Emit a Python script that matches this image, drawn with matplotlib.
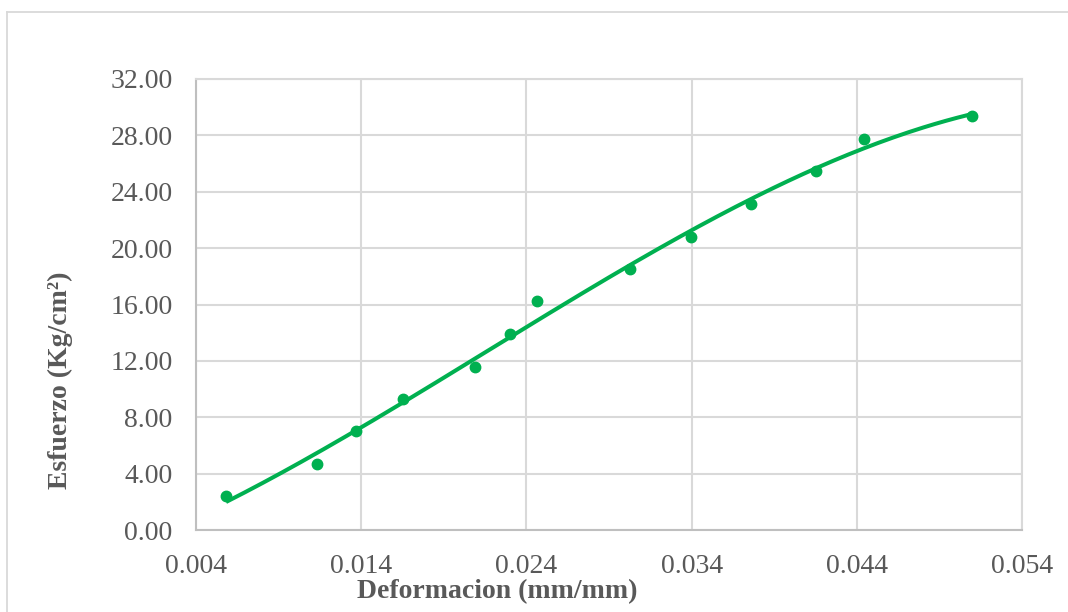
import numpy as np
import matplotlib
matplotlib.use("Agg")
import matplotlib.pyplot as plt
from matplotlib.lines import Line2D

# Strain (mm/mm) and stress (Kg/cm²) readings
deformacion = [0.00582, 0.01134, 0.01371, 0.01656, 0.02087, 0.02299, 0.02463,
               0.03027, 0.03398, 0.03762, 0.04150, 0.04441, 0.05097]
esfuerzo = [2.38, 4.68, 7.00, 9.27, 11.60, 13.90, 16.22,
            18.50, 20.82, 23.14, 25.44, 27.72, 29.40]

x_ticks = [0.004, 0.014, 0.024, 0.034, 0.044, 0.054]
y_ticks = [0, 4, 8, 12, 16, 20, 24, 28, 32]

GREEN = "#00B050"
TEXT = "#595959"
GRID = "#D9D9D9"

plt.rcParams["font.family"] = ["Liberation Serif", "DejaVu Serif"]

fig = plt.figure(figsize=(10.68, 6.12), dpi=100)
ax = fig.add_axes([196 / 1068, 1 - 530 / 612, (1022 - 196) / 1068, (530 - 79) / 612])

# Chart frame (top and left edges visible)
fig.add_artist(Line2D([7 / 1068, 1.0], [1 - 12 / 612] * 2, color=GRID, lw=1.3,
                      transform=fig.transFigure))
fig.add_artist(Line2D([7 / 1068] * 2, [0.0, 1 - 12 / 612], color=GRID, lw=1.3,
                      transform=fig.transFigure))

x = np.array(deformacion)
y = np.array(esfuerzo)

# Third-order polynomial trend line
coef = np.polyfit(x, y, 3)
xs = np.linspace(x.min(), x.max(), 200)
ax.plot(xs, np.polyval(coef, xs), color=GREEN, lw=2.9, solid_capstyle="butt", zorder=3)
ax.plot(x, y, "o", color=GREEN, ms=7.5, zorder=4)

ax.set_xlim(0.004, 0.054)
ax.set_ylim(0, 32)
ax.set_xticks(x_ticks)
ax.set_yticks(y_ticks)
ax.set_xticklabels([f"{v:.3f}" for v in x_ticks])
ax.set_yticklabels([f"{v:.2f}" for v in y_ticks])
ax.tick_params(axis="both", length=0, labelsize=20, labelcolor=TEXT)
ax.tick_params(axis="x", pad=17)
ax.tick_params(axis="y", pad=17)

ax.grid(True, color=GRID, lw=1.5)
ax.set_axisbelow(True)
for side in ["top", "right"]:
    ax.spines[side].set_color(GRID)
    ax.spines[side].set_linewidth(1.5)
for side in ["left", "bottom"]:
    ax.spines[side].set_color("#BFBFBF")
    ax.spines[side].set_linewidth(1.5)

fig.text(497 / 1068, 1 - 592 / 612, "Deformacion (mm/mm)", ha="center", va="center",
         fontsize=20, fontweight="bold", color=TEXT)
fig.text(60 / 1068, 1 - 380 / 612, "Esfuerzo (Kg/cm²)", ha="center", va="center",
         rotation=90, fontsize=20, fontweight="bold", color=TEXT)

fig.savefig("out.png", dpi=100, facecolor="white")
